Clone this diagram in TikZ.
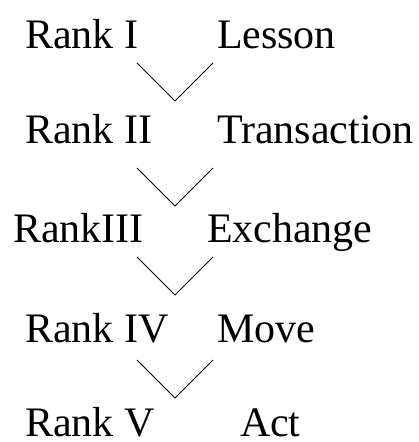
\documentclass[tikz,border=0pt]{standalone}
\usepackage{fontspec}
\setmainfont{Liberation Serif}
\begin{document}
\begin{tikzpicture}[x=1pt,y=-1pt,
  lbl/.style={anchor=base west,inner sep=0pt,outer sep=0pt,font=\fontsize{42}{50}\selectfont},
  vline/.style={line width=1pt,line join=miter}]
\useasboundingbox (0,0) rectangle (419,442);
% rows
\node[lbl] (r1) at (25,48) {Rank I};
\node[lbl] (w1) at (217,48) {Lesson};
\node[lbl] (r2) at (25,143) {Rank II};
\node[lbl] (w2) at (217,143) {Transaction};
\node[lbl] (r3) at (13,242) {RankIII};
\node[lbl] (w3) at (207,242) {Exchange};
\node[lbl] (r4) at (25,342) {Rank IV};
\node[lbl] (w4) at (217,342) {Move};
\node[lbl] (r5) at (25,436) {Rank V};
\node[lbl] (w5) at (240,436) {Act};
% V shapes
\foreach \i/\t in {1/63,2/168,3/257,4/360}{
  \coordinate (a\i) at (137,\t);
  \coordinate (b\i) at (175,\t+38);
  \coordinate (c\i) at (213,\t);
  \draw[vline] (a\i) -- (b\i) -- (c\i);
}
\end{tikzpicture}
\end{document}
